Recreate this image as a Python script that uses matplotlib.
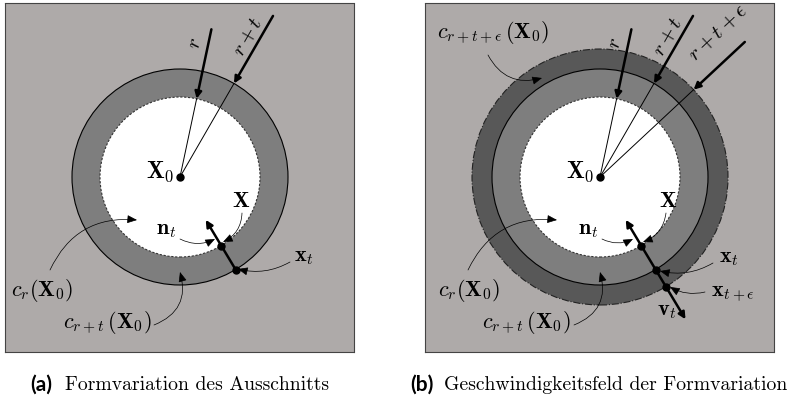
import numpy as np
import matplotlib
matplotlib.use("Agg")
from matplotlib import pyplot as plt
from matplotlib.patches import Circle, FancyArrowPatch

plt.rcParams["mathtext.fontset"] = "cm"

# colours of the drawing
bg_grey = "#aeaaa9"
ring_grey = "#7e7e7e"
dark_grey = "#585858"

# radii of the circles (pixels): r, r+t, r+t+eps
radii = [80, 108, 128]
# radial labels: angle (deg), start radius of the thick arrow, label pos, text
radial_angles_a = [78, 60]
radial_starts_a = [151, 186]
radial_targets_a = [80, 108]
radial_texts_a = [r"$r$", r"$r+t$"]
radial_label_pos_a = [(14, 134), (67, 141)]

radial_angles_b = [78, 60, 43]
radial_starts_b = [151, 186, 198]
radial_targets_b = [80, 108, 128]
radial_texts_b = [r"$r$", r"$r+t$", r"$r+t+\epsilon$"]
radial_label_pos_b = [(14, 134), (67, 141), (118, 145)]

# normal direction at the point X
normal_angle = -59
dots_a = [80, 108]
dots_b = [80, 108, 128]

# annotations: text, text pos, arrow start, arrow end, bend
notes_a = [
    (r"$c_r(\mathbf{X}_0)$", (-138, -113), (-130, -93), (-43, -43), -0.35),
    (r"$c_{r+t}\,(\mathbf{X}_0)$", (-73, -145), (-26, -148), (0, -95), 0.45),
    (r"$\mathbf{n}_t$", (-14, -53), (0, -62), (35, -62), 0.25),
    (r"$\mathbf{X}$", (61, -24), (62, -36), (43, -65), -0.3),
    (r"$\mathbf{x}_t$", (124, -80), (110, -85), (58, -92), -0.2),
]
notes_b = [
    (r"$c_{r+t+\epsilon}\,(\mathbf{X}_0)$", (-107, 144), (-112, 122), (-58, 99), 0.4),
    (r"$c_r(\mathbf{X}_0)$", (-131, -113), (-132, -93), (-43, -43), -0.35),
    (r"$c_{r+t}\,(\mathbf{X}_0)$", (-74, -145), (-26, -148), (0, -95), 0.45),
    (r"$\mathbf{n}_t$", (-12, -53), (2, -62), (33, -62), 0.25),
    (r"$\mathbf{X}$", (68, -24), (66, -36), (43, -65), -0.3),
    (r"$\mathbf{x}_t$", (129, -81), (113, -86), (60, -94), -0.2),
    (r"$\mathbf{x}_{t+\epsilon}$", (133, -118), (105, -115), (70, -110), -0.2),
]

captions = [("(a)", "Formvariation des Ausschnitts"),
            ("(b)", "Geschwindigkeitsfeld der Formvariation")]


def polar(rad, ang):
    a = np.radians(ang)
    return rad * np.cos(a), rad * np.sin(a)


def draw_panel(ax, n_rings, angles, starts, targets, texts, label_pos, dots, notes, both_ways):
    ax.set_xlim(-175, 174)
    ax.set_ylim(-175, 174)
    ax.set_aspect("equal")
    ax.set_facecolor(bg_grey)
    ax.set_xticks([])
    ax.set_yticks([])
    for s in ax.spines.values():
        s.set_linestyle((0, (2, 1)))
        s.set_linewidth(0.8)
        s.set_edgecolor("#444444")

    if n_rings == 3:
        ax.add_patch(Circle((0, 0), radii[2], facecolor=dark_grey, edgecolor="#222222",
                            lw=0.8, ls="-."))
    ax.add_patch(Circle((0, 0), radii[1], facecolor=ring_grey, edgecolor="black", lw=0.8))
    ax.add_patch(Circle((0, 0), radii[0], facecolor="white", edgecolor="#333333",
                        lw=0.8, ls=(0, (2, 1.5))))

    # radial lines and thick arrows
    for ang, st, tg, txt, pos in zip(angles, starts, targets, texts, label_pos):
        tip = polar(tg, ang)
        ax.plot([0, tip[0]], [0, tip[1]], color="black", lw=0.7)
        ax.add_patch(FancyArrowPatch(polar(st, ang), tip, arrowstyle="-|>",
                                     mutation_scale=10, lw=1.8, color="black",
                                     shrinkA=0, shrinkB=0))
        ax.text(pos[0], pos[1], txt, rotation=ang, fontsize=15,
                ha="center", va="center", rotation_mode="anchor")

    ax.plot(0, 0, "o", color="black", ms=5)
    ax.text(-6, 5, r"$\mathbf{X}_0$", fontsize=17, ha="right", va="center")

    # normal / velocity arrow
    style = "<|-|>" if both_ways else "-|>"
    end = 166 if both_ways else 108
    ax.add_patch(FancyArrowPatch(polar(end, normal_angle), polar(50, normal_angle),
                                 arrowstyle=style, mutation_scale=10, lw=1.8,
                                 color="black", shrinkA=0, shrinkB=0))
    for d in dots:
        x, y = polar(d, normal_angle)
        ax.plot(x, y, "o", color="black", ms=5)
    if both_ways:
        ax.text(67, -134, r"$\mathbf{v}_t$", fontsize=16, ha="center", va="center")

    for txt, tpos, a0, a1, bend in notes:
        ax.text(tpos[0], tpos[1], txt, fontsize=16, ha="center", va="center")
        ax.add_patch(FancyArrowPatch(a0, a1, connectionstyle=f"arc3,rad={bend}",
                                     arrowstyle="-|>,head_length=0.6,head_width=0.25",
                                     mutation_scale=10, lw=0.5, color="black",
                                     shrinkA=0, shrinkB=0))


fig = plt.figure(figsize=(7.88, 4.0), dpi=100)
ax_a = fig.add_axes([5 / 788, 48 / 400, 349 / 788, 349 / 400])
ax_b = fig.add_axes([425 / 788, 48 / 400, 349 / 788, 349 / 400])

draw_panel(ax_a, 2, radial_angles_a, radial_starts_a, radial_targets_a, radial_texts_a,
           radial_label_pos_a, dots_a, notes_a, False)
draw_panel(ax_b, 3, radial_angles_b, radial_starts_b, radial_targets_b, radial_texts_b,
           radial_label_pos_b, dots_b, notes_b, True)

# captions
for (tag, txt), x_tag, x_txt in zip(captions, [30, 410], [65, 444]):
    fig.text(x_tag / 788, 1 - 385 / 400, tag, fontsize=15, fontweight="bold",
             family="Lato", va="center", ha="left")
    fig.text(x_txt / 788, 1 - 385 / 400, txt, fontsize=14.2, family="cmr10",
             va="center", ha="left")

fig.savefig("out.png", dpi=100)
